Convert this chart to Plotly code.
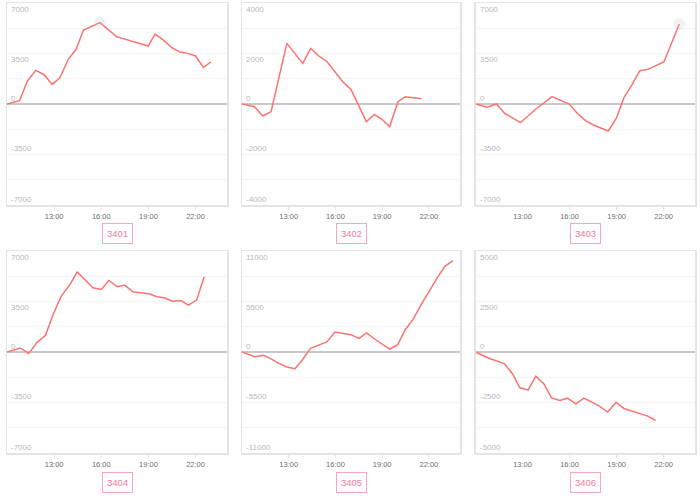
import plotly.graph_objects as go

W, H = 700, 496

ids = ["3401", "3402", "3403", "3404", "3405", "3406"]

t3401 = ["10:00","10:48","11:18","11:50","12:22","12:52","13:22","13:54","14:24","14:52","15:55","16:58","18:59","19:25","19:56","20:28","21:00","21:30","22:00","22:30","22:58"]
v3401 = [0,230,1600,2330,2030,1360,1820,3100,3790,5130,5640,4670,4020,4850,4440,3930,3600,3510,3330,2540,2910]

t3402 = ["10:00","10:48","11:20","11:52","12:53","13:54","14:25","14:56","15:28","15:57","16:28","17:00","17:59","18:30","18:59","19:29","20:01","20:29","21:31"]
v3402 = [0,-105,-475,-300,2400,1610,2200,1900,1675,1280,880,580,-700,-410,-605,-895,90,290,210]

t3403 = ["10:00","10:46","11:20","11:52","12:52","13:51","14:53","15:59","16:29","17:01","17:31","18:28","19:00","19:28","19:58","20:29","20:59","22:01","23:00"]
v3403 = [0,-230,0,-650,-1295,-345,510,0,-645,-1155,-1455,-1870,-945,440,1315,2310,2400,2910,5545]

t3404 = ["10:00","10:51","11:23","11:55","12:27","12:56","13:27","13:59","14:28","14:58","15:28","16:00","16:29","17:01","17:29","18:02","18:31","19:02","19:32","20:00","20:32","21:04","21:33","22:04","22:33"]
v3404 = [0,280,-95,670,1160,2600,3870,4635,5540,4960,4450,4335,4960,4520,4635,4150,4080,4035,3825,3755,3525,3570,3245,3595,5215]

t3405 = ["10:00","10:49","11:23","11:50","12:24","12:53","13:24","13:53","14:24","14:55","15:27","15:58","16:29","16:59","17:31","18:00","18:31","19:00","19:29","20:00","20:29","21:01","21:31","22:01","22:33","23:02","23:32"]
v3405 = [0,-510,-365,-725,-1270,-1635,-1815,-835,400,725,1090,2180,2000,1890,1490,2070,1415,870,325,800,2430,3630,5225,6605,8130,9330,9945]

t3406 = ["10:00","10:49","11:50","12:22","12:50","13:22","13:51","14:22","14:51","15:23","15:52","16:24","16:55","17:27","17:53","18:26","18:58","19:28","19:58","20:29","20:59","21:29"]
v3406 = [0,-295,-575,-1085,-1775,-1875,-1200,-1580,-2270,-2400,-2285,-2565,-2285,-2500,-2665,-2975,-2485,-2795,-2930,-3060,-3175,-3390]

y_max = [7000, 4000, 7000, 7000, 11000, 5000]
x_ticks = ["13:00", "16:00", "19:00", "22:00"]

# highlighted (hover) points: panel index, time, value
hl_panel = [0, 2]
hl_time = ["15:55", "23:00"]
hl_val = [5640, 5545]

times = [t3401, t3402, t3403, t3404, t3405, t3406]
vals = [v3401, v3402, v3403, v3404, v3405, v3406]


def hrs(s):
    h, m = s.split(":")
    return int(h) + int(m) / 60.0


# layout geometry in pixels
col_px = [(7, 227), (242, 460), (475.5, 695)]
row_px = [(3, 205), (251, 453)]

LINE = "#fa7272"
fig = go.Figure()
layout = dict(
    width=W, height=H, margin=dict(l=0, r=0, t=0, b=0),
    paper_bgcolor="white", plot_bgcolor="white", showlegend=False,
    font=dict(family="Liberation Sans, Arial, sans-serif"),
)
annotations = []

for i in range(6):
    r, c = divmod(i, 3)
    n = i + 1
    xa = "xaxis" if n == 1 else f"xaxis{n}"
    ya = "yaxis" if n == 1 else f"yaxis{n}"
    xr = "x" if n == 1 else f"x{n}"
    yr = "y" if n == 1 else f"y{n}"
    x0, x1 = col_px[c]
    y0, y1 = row_px[r]
    ym = y_max[i]
    layout[xa] = dict(
        domain=[x0 / W, x1 / W], anchor=yr, range=[10, 24],
        tickvals=[hrs(t) for t in x_ticks], ticktext=x_ticks,
        showgrid=False, zeroline=False, showline=True, mirror=True,
        linecolor="#e4e4e4", linewidth=1.5, ticks="outside", ticklen=3,
        tickcolor="#e4e4e4", tickfont=dict(size=7.5, color="#6e6e6e"),
        fixedrange=True,
    )
    layout[ya] = dict(
        domain=[1 - y1 / H, 1 - y0 / H], anchor=xr, range=[-ym, ym],
        dtick=ym / 4, showgrid=True, gridcolor="#f4f4f4", gridwidth=1,
        zeroline=True, zerolinecolor="#c8c8c8", zerolinewidth=2,
        showline=True, mirror=True, linecolor="#e4e4e4", linewidth=1.5,
        showticklabels=False, ticks="", fixedrange=True,
    )
    fig.add_trace(go.Scatter(
        x=[hrs(t) for t in times[i]], y=vals[i], mode="lines",
        line=dict(color=LINE, width=1.5), xaxis=xr, yaxis=yr,
        hoverinfo="skip",
    ))
    # y labels
    lab_vals = [ym, ym / 2, 0, -ym / 2, -ym]
    shifts = [-6, -6, 6, 6, 6]
    for lv, sh in zip(lab_vals, shifts):
        annotations.append(dict(
            x=0, xref=f"{xr} domain", y=lv, yref=yr, xanchor="left",
            yanchor="middle", xshift=2, yshift=sh, showarrow=False,
            text=str(int(lv)), font=dict(size=8, color="#b8b8b8"),
        ))
    # id box
    annotations.append(dict(
        x=(x0 + x1) / 2 / W, y=1 - (233.5 if r == 0 else 482) / H,
        xref="paper", yref="paper", xanchor="center", yanchor="middle",
        showarrow=False, text=ids[i], font=dict(size=9.5, color="#f07a9c"),
        bordercolor="#f7a6bd", borderwidth=1, borderpad=4, bgcolor="white",
    ))

for p, t, v in zip(hl_panel, hl_time, hl_val):
    n = p + 1
    xr = "x" if n == 1 else f"x{n}"
    yr = "y" if n == 1 else f"y{n}"
    fig.add_trace(go.Scatter(
        x=[hrs(t)], y=[v], mode="markers",
        marker=dict(size=12, color="rgba(200,200,200,0.25)", line=dict(width=0)),
        xaxis=xr, yaxis=yr, hoverinfo="skip",
    ))

layout["annotations"] = annotations
fig.update_layout(**layout)
fig.write_html(
    "out.html",
    config={"displayModeBar": False, "staticPlot": True},
    post_script="document.body.style.margin='0';document.body.style.padding='0';",
)
